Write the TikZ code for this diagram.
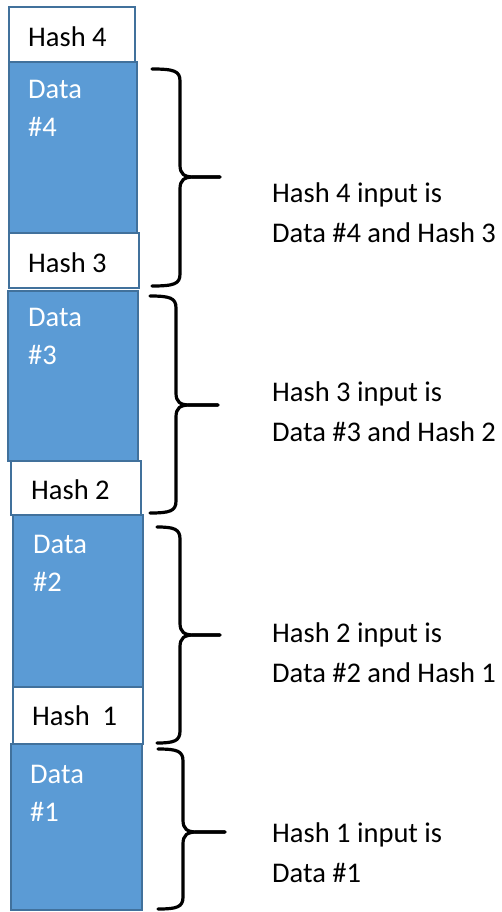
\documentclass[tikz,border=0pt]{standalone}
\usepackage{fontspec}
\setmainfont{Carlito}
\definecolor{blockblue}{HTML}{5B9BD5}
\definecolor{blockedge}{HTML}{41719C}
% curly bracket: left tip x, spine x, point x, top y, middle y, bottom y
\newcommand\drawcurly[6]{%
  \draw[curly] (#1,#4) .. controls (#2-6,#4) and (#2,#4+2) .. (#2,#4+12)
    -- (#2,#5-12) .. controls (#2,#5-3) and (#2+4,#5) .. (#2+14,#5) -- (#3,#5);
  \draw[curly] (#3,#5) -- (#2+14,#5) .. controls (#2+4,#5) and (#2,#5+3) .. (#2,#5+12)
    -- (#2,#6-12) .. controls (#2,#6-2) and (#2-6,#6) .. (#1,#6);
}
\tikzset{
  block/.style={draw=blockedge, line width=1.5pt, inner sep=0pt, outer sep=0pt, anchor=north west},
  databox/.style={block, fill=blockblue},
  hashbox/.style={block, fill=white},
  hashtxt/.style={anchor=west, inner sep=0pt, font=\fontsize{28.5}{38}\selectfont},
  datatxt/.style={anchor=north west, inner sep=0pt, align=left, text=white, font=\fontsize{28.5}{38}\selectfont},
  note/.style={anchor=west, inner sep=0pt, align=left, font=\fontsize{28.5}{40}\selectfont},
  curly/.style={line width=3.2pt, line cap=round, line join=round},
}
\begin{document}
\begin{tikzpicture}[x=1pt, y=-1pt]
\useasboundingbox (0,0) rectangle (501,912);
\fill[white] (0,0) rectangle (501,912);

% stacked blocks, top to bottom
\node[hashbox, minimum width=126pt, minimum height=55pt]  (h4) at (9,7)    {};
\node[databox, minimum width=128pt, minimum height=171pt] (d4) at (9,62)   {};
\node[hashbox, minimum width=130pt, minimum height=55pt]  (h3) at (9,233)  {};
\node[databox, minimum width=130pt, minimum height=170pt] (d3) at (8,291)  {};
\node[hashbox, minimum width=130pt, minimum height=54pt]  (h2) at (11,461) {};
\node[databox, minimum width=130pt, minimum height=172pt] (d2) at (13,515) {};
\node[hashbox, minimum width=130pt, minimum height=57pt]  (h1) at (13,687) {};
\node[databox, minimum width=131pt, minimum height=166pt] (d1) at (11,744) {};

% block labels
\node[hashtxt] (h4t) at (28,37)  {Hash 4};
\node[datatxt] (d4t) at (28,80)  {Data\\\#4};
\node[hashtxt] (h3t) at (28,263) {Hash 3};
\node[datatxt] (d3t) at (28,308) {Data\\\#3};
\node[hashtxt] (h2t) at (31,490) {Hash 2};
\node[datatxt] (d2t) at (33,535) {Data\\\#2};
\node[hashtxt] (h1t) at (32,716) {Hash\ \ 1};
\node[datatxt] (d1t) at (30,765) {Data\\\#1};

% brackets
\drawcurly{152}{180}{220}{69}{177}{286}
\drawcurly{150}{176}{218}{296}{405}{513}
\drawcurly{157}{180}{220}{527}{635}{743}
\drawcurly{158}{183}{225}{749}{832}{909}

% explanations
\node[note] (n4) at (272,213) {Hash 4 input is\\Data \#4 and Hash 3};
\node[note] (n3) at (272,412) {Hash 3 input is\\Data \#3 and Hash 2};
\node[note] (n2) at (272,653) {Hash 2 input is\\Data \#2 and Hash 1};
\node[note] (n1) at (272,853) {Hash 1 input is\\Data \#1};
\end{tikzpicture}
\end{document}
